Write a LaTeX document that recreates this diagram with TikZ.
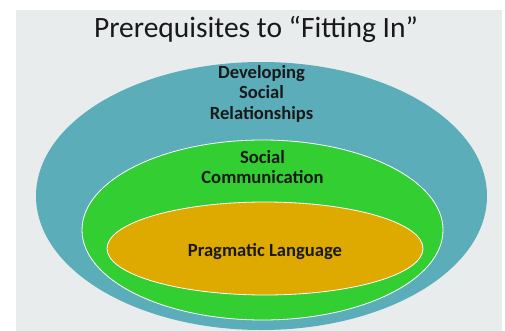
\documentclass[tikz,border=0pt]{standalone}
\usepackage{fontspec}
\setmainfont{Carlito}
\usetikzlibrary{positioning,shapes.geometric}

\definecolor{slidebg}{RGB}{233,236,236}
\definecolor{relcolor}{RGB}{91,174,185}
\definecolor{comcolor}{RGB}{50,206,50}
\definecolor{pragcolor}{RGB}{222,170,0}
\definecolor{labeltext}{RGB}{25,25,25}

\begin{document}
\begin{tikzpicture}[
      x=1pt, y=-1pt,
      every node/.style = {align=center, inner sep=0pt, outer sep=0pt},
      ring/.style = {ellipse, draw=white, line width=0.8pt},
      ringlabel/.style = {text=labeltext, font=\bfseries\fontsize{18.6}{20.5}\selectfont},
      heading/.style = {text=labeltext, font=\fontsize{29.5}{32}\selectfont}
    ]
    \useasboundingbox (0,0) rectangle (505,331);
    \fill[slidebg] (16,10) rectangle (502,331);

    \node (title) [heading] at (256,29) {Prerequisites to “Fitting In”};

    % nested ellipses, outermost first
    \node (relations) [ring, draw=none, fill=relcolor, minimum width=451pt, minimum height=268pt] at (261.5,196) {};
    \node (communication) [ring, fill=comcolor, minimum width=361pt, minimum height=180pt] at (262.5,230) {};
    \node (pragmatics) [ring, fill=pragcolor, minimum width=316pt, minimum height=93pt] at (265,248.5) {};

    \node (relationslabel) [ringlabel, below=3pt of relations.north] {Developing\\Social\\Relationships};
    \node (communicationlabel) [ringlabel, below=10pt of communication.north] {Social\\Communication};
    \node (pragmaticslabel) [ringlabel] at ([yshift=-3pt]pragmatics.center) {Pragmatic Language};
  \end{tikzpicture}
\end{document}
